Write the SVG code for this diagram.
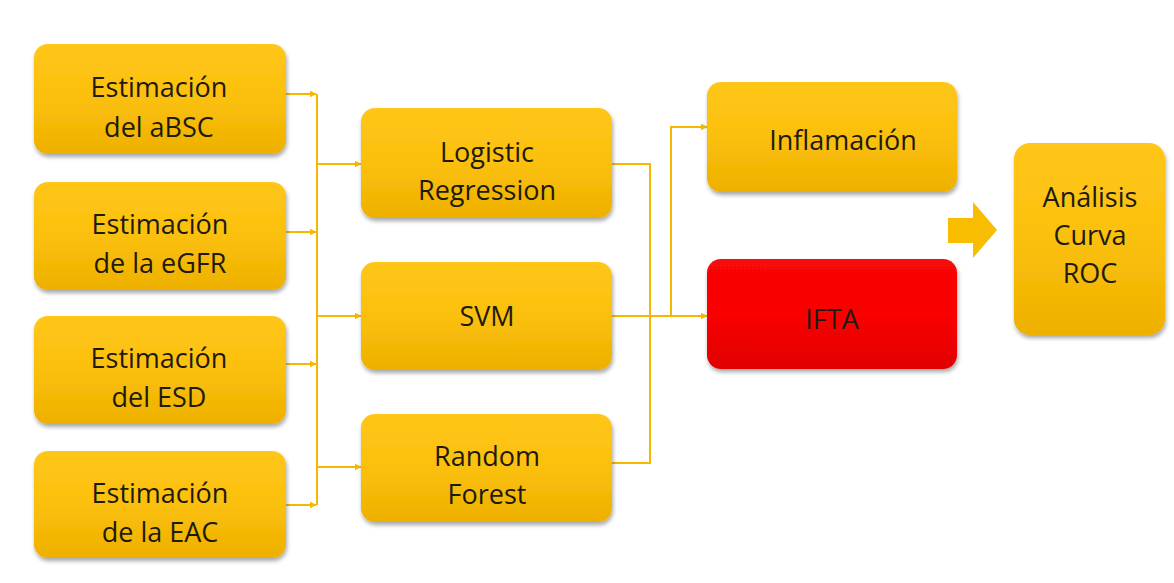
<svg xmlns="http://www.w3.org/2000/svg" width="1174" height="583" viewBox="0 0 1174 583">
<defs>
<linearGradient id="gy" x1="0" y1="0" x2="0" y2="1">
<stop offset="0" stop-color="#FFC61A"/>
<stop offset="0.5" stop-color="#FBC00C"/>
<stop offset="1" stop-color="#EEB000"/>
</linearGradient>
<linearGradient id="gr" x1="0" y1="0" x2="0" y2="1">
<stop offset="0" stop-color="#F80808"/>
<stop offset="0.5" stop-color="#FA0000"/>
<stop offset="1" stop-color="#E00000"/>
</linearGradient>
<filter id="sh" x="-10%" y="-10%" width="120%" height="130%">
<feGaussianBlur in="SourceAlpha" stdDeviation="2"/>
<feOffset dx="1" dy="3" result="b"/>
<feComponentTransfer><feFuncA type="linear" slope="0.35"/></feComponentTransfer>
<feMerge><feMergeNode/><feMergeNode in="SourceGraphic"/></feMerge>
</filter>
<marker id="ah" viewBox="0 0 10 10" refX="9" refY="5" markerWidth="3.5" markerHeight="3.5" orient="auto">
<path d="M0,0 L10,5 L0,10 z" fill="#F5B800"/>
</marker>
</defs>
<style>
.y{fill:url(#gy);filter:url(#sh)}
.r{fill:url(#gr);filter:url(#sh)}
.t{font-family:"Open Sans","Noto Sans",sans-serif;font-size:27px;fill:#1E1A10;text-anchor:middle}
.c{fill:none;stroke:#F5B800;stroke-width:2}
.ca{fill:none;stroke:#F5B800;stroke-width:2;marker-end:url(#ah)}
</style>
<rect width="1174" height="583" fill="#FFFFFF"/>

<g id="connectors">
<path class="ca" d="M286,94 H316"/>
<path class="ca" d="M286,232 H316"/>
<path class="ca" d="M286,364 H316"/>
<path class="ca" d="M286,505 H316"/>
<path class="c" d="M317,94 V505"/>
<path class="ca" d="M317,164 H361"/>
<path class="ca" d="M317,316 H361"/>
<path class="ca" d="M317,467 H361"/>
<path class="c" d="M612,164 H650 V463 H612"/>
<path class="ca" d="M612,316 H707"/>
<path class="ca" d="M671,316 V127 H707"/>
</g>

<g id="n1"><rect class="y" x="34" y="44" width="252" height="110" rx="14"/>
<text class="t" x="159" y="97">Estimación</text><text class="t" x="159" y="137">del aBSC</text></g>
<g id="n2"><rect class="y" x="34" y="182" width="252" height="108" rx="14"/>
<text class="t" x="160" y="234">Estimación</text><text class="t" x="160" y="273">de la eGFR</text></g>
<g id="n3"><rect class="y" x="34" y="316" width="252" height="108" rx="14"/>
<text class="t" x="159" y="368">Estimación</text><text class="t" x="159" y="407">del ESD</text></g>
<g id="n4"><rect class="y" x="34" y="451" width="252" height="107" rx="14"/>
<text class="t" x="160" y="503">Estimación</text><text class="t" x="160" y="542">de la EAC</text></g>

<g id="lr"><rect class="y" x="361" y="108" width="251" height="110" rx="14"/>
<text class="t" x="487" y="162">Logistic</text><text class="t" x="487" y="200">Regression</text></g>
<g id="svm"><rect class="y" x="361" y="262" width="251" height="108" rx="14"/>
<text class="t" x="487" y="326">SVM</text></g>
<g id="rf"><rect class="y" x="361" y="414" width="251" height="108" rx="14"/>
<text class="t" x="487" y="466">Random</text><text class="t" x="487" y="504">Forest</text></g>

<g id="infl"><rect class="y" x="707" y="82" width="250" height="110" rx="14"/>
<text class="t" x="843" y="150">Inflamación</text></g>
<g id="ifta"><rect class="r" x="707" y="259" width="250" height="110" rx="14"/>
<text class="t" x="832" y="329">IFTA</text></g>

<g id="arrow"><path d="M948,218 H973 V202 L997,230 L973,258 V243 H948 Z" fill="#F8BC00"/></g>

<g id="roc"><rect class="y" x="1014" y="143" width="151" height="192" rx="16"/>
<text class="t" x="1090" y="207">Análisis</text><text class="t" x="1090" y="245">Curva</text><text class="t" x="1090" y="283">ROC</text></g>
</svg>
